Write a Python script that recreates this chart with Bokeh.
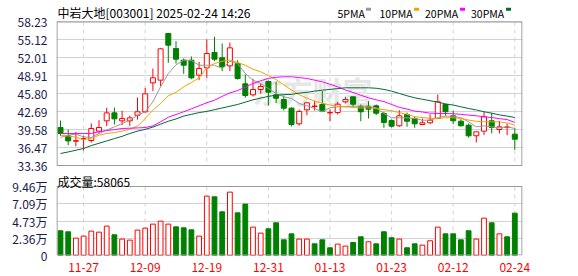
from bokeh.plotting import figure
from bokeh.models import Range1d, FixedTicker, ColumnDataSource, PrintfTickFormatter
from bokeh.core.properties import value
from bokeh.embed import file_html
from bokeh.resources import INLINE

# ---------------- data ----------------
stock_name = "中岩大地"
stock_code = "003001"
stamp = "2025-02-24 14:26"

dates = ["11-22", "11-25", "11-26", "11-27", "11-28", "11-29", "12-02", "12-03", "12-04", "12-05",
         "12-06", "12-09", "12-10", "12-11", "12-12", "12-13", "12-16", "12-17", "12-18", "12-19",
         "12-20", "12-23", "12-24", "12-25", "12-26", "12-27", "12-30", "12-31", "01-02", "01-03",
         "01-06", "01-07", "01-08", "01-09", "01-10", "01-13", "01-14", "01-15", "01-16", "01-17",
         "01-20", "01-21", "01-22", "01-23", "01-24", "01-27", "02-05", "02-06", "02-07", "02-10",
         "02-11", "02-12", "02-13", "02-14", "02-17", "02-18", "02-19", "02-20", "02-21", "02-24"]

opens = [39.92, 38.48, 37.55, 37.95, 37.68, 39.29, 41.07, 42.45, 41.07, 41.07,
         42.05, 42.63, 47.64, 48.10, 56.16, 53.57, 51.55, 51.55, 48.96, 50.23,
         52.88, 51.96, 50.57, 50.97, 47.47, 45.57, 46.49, 47.87, 45.57, 44.76,
         43.26, 40.56, 42.98, 43.55, 43.90, 42.45, 42.51, 44.36, 45.23, 43.60,
         43.60, 43.67, 42.34, 41.13, 40.22, 42.17, 41.48, 40.44, 40.73, 41.48,
         43.90, 41.94, 41.01, 40.32, 38.49, 39.29, 41.08, 39.58, 39.97, 38.77]
highs = [41.12, 39.57, 39.17, 38.50, 40.61, 41.19, 43.32, 43.37, 42.80, 41.99,
         45.10, 46.77, 50.11, 53.68, 56.16, 54.83, 51.84, 52.19, 51.26, 55.12,
         55.58, 54.43, 54.60, 51.55, 49.08, 48.33, 47.47, 48.04, 47.87, 45.45,
         43.43, 43.03, 44.19, 44.53, 46.20, 43.08, 44.36, 45.23, 45.23, 43.90,
         44.47, 43.90, 42.64, 41.30, 42.91, 42.51, 41.77, 41.48, 42.22, 45.62,
         43.90, 42.81, 41.36, 40.61, 39.18, 42.64, 42.46, 41.08, 40.61, 39.80]
lows = [38.48, 36.86, 36.69, 35.95, 37.33, 38.88, 40.15, 40.44, 40.33, 40.20,
        41.30, 42.51, 46.20, 47.06, 51.09, 50.97, 49.20, 48.27, 48.10, 48.50,
        51.38, 49.65, 49.65, 48.21, 45.05, 45.28, 45.74, 43.72, 44.12, 42.86,
        40.10, 40.27, 42.05, 42.86, 42.69, 41.01, 42.17, 44.07, 43.33, 41.01,
        41.48, 42.05, 39.87, 39.93, 40.04, 40.04, 39.87, 40.32, 40.56, 41.36,
        41.94, 40.50, 40.10, 38.15, 37.33, 38.60, 38.89, 38.89, 38.60, 36.07]
closes = [38.88, 37.61, 37.65, 38.00, 39.75, 39.92, 42.45, 41.42, 41.47, 41.59,
          42.63, 45.74, 48.50, 53.51, 54.14, 51.72, 50.69, 48.50, 50.11, 52.70,
          51.72, 50.40, 53.68, 48.39, 45.45, 46.49, 47.01, 46.02, 44.98, 43.26,
          40.44, 42.69, 44.19, 43.62, 42.74, 42.50, 43.95, 44.76, 43.95, 42.64,
          43.08, 42.40, 40.79, 40.15, 41.94, 41.01, 40.56, 40.73, 41.18, 44.36,
          42.64, 41.08, 40.22, 38.49, 39.18, 41.77, 39.93, 40.04, 40.00, 37.90]
# volume in lots (手)
volumes = [33900, 32500, 23800, 26600, 33400, 32000, 40300, 28400, 22500, 21100,
           34800, 37500, 43000, 47100, 43000, 39300, 38000, 35200, 26600, 81400,
           80500, 59900, 86900, 58500, 70500, 38900, 30700, 36600, 44800, 21500,
           29700, 22500, 22500, 16000, 21500, 10600, 15600, 12900, 17800, 25600,
           18800, 16000, 32500, 24300, 22500, 10600, 16000, 14200, 20200, 38900,
           29700, 29700, 21500, 33900, 22500, 51200, 44800, 29700, 25600, 58065]

ma5 = [38.20, 38.60, 38.77, 38.31, 38.20, 38.88, 39.46, 40.04, 40.61, 41.18,
       42.05, 42.64, 44.36, 46.95, 49.25, 50.75, 51.55, 51.50, 50.68, 50.68,
       50.68, 50.11, 51.37, 50.98, 49.25, 48.10, 47.52, 46.66, 45.80, 45.23,
       44.93, 44.07, 43.67, 43.20, 42.64, 43.33, 43.50, 43.50, 43.60, 43.60,
       43.60, 43.33, 42.34, 41.60, 41.60, 41.60, 41.48, 41.18, 41.18, 41.60,
       41.88, 41.88, 41.60, 40.90, 40.04, 40.20, 40.04, 39.87, 40.04, 39.75]
ma10 = [38.60, 38.45, 38.25, 37.85, 38.02, 38.60, 38.88, 39.05, 39.29, 39.63,
        40.15, 41.48, 42.91, 44.07, 45.40, 46.00, 46.95, 47.70, 48.50, 50.23,
        50.98, 51.37, 51.55, 51.15, 50.68, 49.99, 49.54, 48.90, 48.20, 47.30,
        46.40, 45.60, 45.00, 44.50, 44.10, 43.80, 43.60, 43.50, 43.40, 43.30,
        43.30, 43.20, 43.00, 42.80, 42.50, 42.20, 41.80, 41.65, 41.50, 41.50,
        41.60, 41.60, 41.50, 41.20, 41.00, 40.90, 40.90, 40.90, 40.70, 40.32]
ma20 = [38.88, 38.88, 38.88, 38.88, 38.90, 39.18, 39.40, 39.55, 39.75, 39.80,
        39.85, 39.92, 40.20, 40.90, 41.70, 42.17, 42.64, 43.15, 43.67, 44.20,
        44.64, 45.30, 45.90, 46.30, 46.89, 47.52, 48.00, 48.40, 48.60, 48.68,
        48.68, 48.55, 48.39, 48.10, 47.80, 47.40, 46.95, 46.40, 45.97, 45.50,
        45.05, 44.70, 44.40, 43.90, 43.40, 43.10, 42.75, 42.60, 42.40, 42.34,
        42.34, 42.30, 42.20, 42.05, 41.95, 41.77, 41.65, 41.45, 41.30, 40.79]
ma30 = [35.43, 35.70, 36.00, 36.30, 36.80, 37.20, 37.60, 38.00, 38.40, 38.89,
        39.30, 39.60, 40.00, 40.50, 41.00, 41.40, 41.90, 42.20, 42.50, 42.70,
        43.00, 43.30, 43.60, 43.90, 44.30, 44.70, 45.00, 45.30, 45.50, 45.60,
        45.65, 45.85, 46.00, 46.20, 46.37, 46.50, 46.65, 46.78, 46.78, 46.78,
        46.78, 46.70, 46.50, 46.20, 45.80, 45.40, 45.05, 44.80, 44.55, 44.30,
        44.00, 43.80, 43.50, 43.20, 42.95, 42.64, 42.40, 42.10, 41.90, 41.65]

price_ticks = [33.36, 36.47, 39.58, 42.69, 45.80, 48.91, 52.01, 55.12, 58.23]
vol_ticks = [0, 2.365, 4.73, 7.095, 9.46]          # in units of 万 (10k lots)
vol_tick_labels = ["0", "2.36万", "4.73万", "7.09万", "9.46万"]
label_dates = ["11-27", "12-09", "12-19", "12-31", "01-13", "01-23", "02-12", "02-24"]
ma_names = ["5PMA", "10PMA", "20PMA", "30PMA"]

# ---------------- styling / layout constants (pixels) ----------------
RED = "#ff0000"
GREEN = "#008000"
MA_COLORS = ["#999999", "#f5a000", "#ff00ff", "#006b35"]
GRID = "#d2d2d2"
BORDER = "#999999"
AXIS_TXT = "#1c1c4c"
FONT = "Noto Sans CJK SC"

W, H = 578, 276
FRAME_L, FRAME_R, FRAME_B = 56, 522, 255     # frame spans canvas y 0..255
P_TOP, P_BOT = 21, 165                        # price panel
V_TOP, V_BOT = 186, 255                       # volume panel
X0_PX, XS = 60, 7.7                           # first candle centre, px per candle

k = (price_ticks[-1] - price_ticks[0]) / (P_BOT - P_TOP)
kv = (vol_ticks[-1] - vol_ticks[0]) / (V_BOT - V_TOP)


def ix(px):          # canvas x -> index coordinate
    return (px - X0_PX) / XS


def pr(py):          # canvas y -> price coordinate
    return price_ticks[-1] - (py - P_TOP) * k


def vo(py):          # canvas y -> volume coordinate (万)
    return (V_BOT - py) * kv


n = len(dates)
idx = list(range(n))
tick_idx = [dates.index(d) for d in label_dates]
up = [c >= o for o, c in zip(opens, closes)]
vol_up = [up[0]] + [closes[i] >= closes[i - 1] for i in range(1, n)]

csrc = ColumnDataSource(dict(
    x=idx, h=highs, l=lows,
    top=[max(o, c) for o, c in zip(opens, closes)],
    bot=[min(o, c) for o, c in zip(opens, closes)],
    color=[RED if u else GREEN for u in up],
    fill=["white" if u else GREEN for u in up],
))
vsrc = ColumnDataSource(dict(
    x=idx, v=[v / 10000 for v in volumes],
    color=[RED if u else GREEN for u in vol_up],
    fill=["white" if u else GREEN for u in vol_up],
))

p = figure(frame_width=FRAME_R - FRAME_L, frame_height=FRAME_B,
           x_range=Range1d(ix(FRAME_L), ix(FRAME_R)),
           y_range=Range1d(pr(FRAME_B), pr(0)),
           toolbar_location=None, output_backend="svg",
           min_border_left=FRAME_L, min_border_right=W - FRAME_R,
           min_border_top=0, min_border_bottom=H - FRAME_B)
p.extra_y_ranges = {"vol": Range1d(vo(FRAME_B), vo(0))}
p.outline_line_color = None
p.background_fill_color = "white"
p.border_fill_color = "white"

# one left axis carries both the price ticks and the volume ticks
vol_tick_pos = [pr(V_BOT - v / kv) for v in vol_ticks]
p.yaxis.ticker = FixedTicker(ticks=price_ticks + vol_tick_pos)
p.yaxis.formatter = PrintfTickFormatter(format="%.2f")
p.yaxis.major_label_overrides = {t: s for t, s in zip(vol_tick_pos, vol_tick_labels)}
p.xaxis.ticker = FixedTicker(ticks=tick_idx)
p.xaxis.major_label_overrides = {i: d for i, d in zip(tick_idx, label_dates)}
for ax in (p.xaxis, p.yaxis):
    ax.major_tick_line_color = None
    ax.minor_tick_line_color = None
    ax.axis_line_color = None
    ax.major_label_text_font = FONT
    ax.major_label_text_font_size = "12px"
p.yaxis.major_label_standoff = 3
p.yaxis.major_label_text_color = AXIS_TXT
p.xaxis.major_label_standoff = 1
p.xaxis.major_label_text_color = RED
p.ygrid.grid_line_color = GRID
p.xgrid.visible = False

# watermark
p.text(x=[ix(312)], y=[pr(89)], text=["东方财富"], text_font=value(FONT),
       text_font_size="30px", text_font_style="bold", text_color="#e6e6e6",
       text_align="center", text_baseline="middle")

# dashed vertical grid lines, one set per panel
p.segment(x0=tick_idx, x1=tick_idx, y0=[pr(P_TOP)] * len(tick_idx), y1=[pr(P_BOT)] * len(tick_idx),
          line_color=GRID, line_dash="4 4", line_width=1)
p.segment(x0=tick_idx, x1=tick_idx, y0=[vo(V_TOP)] * len(tick_idx), y1=[vo(V_BOT)] * len(tick_idx),
          line_color=GRID, line_dash="4 4", line_width=1, y_range_name="vol")

# candles
p.segment(x0="x", y0="l", x1="x", y1="h", line_color="color", line_width=1, source=csrc)
p.vbar(x="x", width=0.65, top="top", bottom="bot", fill_color="fill",
       line_color="color", line_width=1, source=csrc)
for ma, col in zip([ma5, ma10, ma20, ma30], MA_COLORS):
    p.line(idx, ma, line_color=col, line_width=1)

# volume bars
p.vbar(x="x", width=0.62, top="v", bottom=0, fill_color="fill",
       line_color="color", line_width=1, source=vsrc, y_range_name="vol")

# panel borders
bx0, bx1 = ix(FRAME_L + 0.5), ix(FRAME_R - 0.5)
p.quad(left=[bx0], right=[bx1], bottom=[pr(P_BOT)], top=[pr(P_TOP + 0.5)],
       fill_color=None, line_color=BORDER, line_width=1.2)
p.quad(left=[bx0], right=[bx1], bottom=[vo(V_BOT - 0.5)], top=[vo(V_TOP)],
       fill_color=None, line_color=BORDER, line_width=1.2, y_range_name="vol")

# header: title + MA legend
p.text(x=[ix(57)], y=[pr(12)], text=[f"{stock_name}[{stock_code}] {stamp}"],
       text_font=value(FONT), text_font_size="12px", text_color="#000000",
       text_baseline="alphabetic")
leg_text_px = [337, 379, 424.5, 470.5]
leg_mark_px = [368, 416, 462, 508]
p.text(x=[ix(v) for v in leg_text_px], y=[pr(12.5)] * 4, text=ma_names,
       text_font=value(FONT), text_font_size="10.5px", text_color="#000000",
       text_baseline="alphabetic")
p.rect(x=[ix(v) for v in leg_mark_px], y=[pr(8.8)] * 4, width=5, height=3,
       width_units="screen", height_units="screen", fill_color=MA_COLORS,
       line_color=None)

# volume caption
p.text(x=[ix(57)], y=[pr(181)], text=[f"成交量:{volumes[-1]}"],
       text_font=value(FONT), text_font_size="12px", text_color="#000000",
       text_baseline="alphabetic")

open("out.html", "w").write(file_html(p, INLINE))
